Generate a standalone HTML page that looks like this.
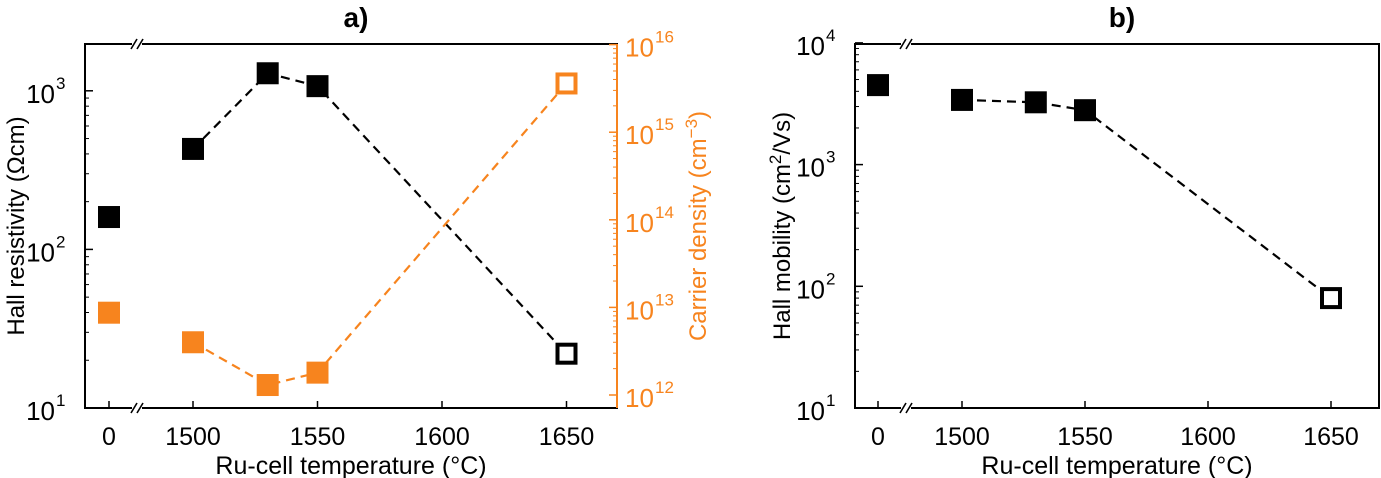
<!DOCTYPE html>
<html><head><meta charset="utf-8"><style>
html,body{margin:0;padding:0;background:#fff;}
svg{display:block;font-family:"Liberation Sans",Arial,sans-serif;}
</style></head><body>
<svg id="fig" width="1381" height="478" viewBox="0 0 1381 478" xmlns="http://www.w3.org/2000/svg"></svg>
<script>
// ---- data ----
const xCats = [0, 1500, 1530, 1550, 1650];
const resistivity = [160, 430, 1290, 1070, 22];
const carrierDensity = [8.7e12, 4e12, 1.3e12, 1.8e12, 3.6e15];
const mobility = [4500, 3400, 3250, 2800, 80];
const xTickLabels = ["0", "1500", "1550", "1600", "1650"];
const xTickValues = [0, 1500, 1550, 1600, 1650];
const leftExpA = [1, 2, 3];
const rightExpA = [12, 13, 14, 15, 16];
const leftExpB = [1, 2, 3, 4];

const NS = "http://www.w3.org/2000/svg";
const svg = document.getElementById('fig');
function el(tag, attrs, parent) {
  const e = document.createElementNS(NS, tag);
  for (const k in attrs) e.setAttribute(k, attrs[k]);
  (parent || svg).appendChild(e);
  return e;
}
const ORANGE = "#f7841e";

function makePanel(p) {
  const g = el('g', {});
  
  
  const xs = v => v === 0 ? p.zeroX : p.x1500 + (v - 1500) * p.pxPer50 / 50;
  const frame = el('rect', {x: p.L, y: p.T, width: p.R - p.L, height: p.B - p.T, fill: 'none', stroke: '#000', 'stroke-width': 2}, g);
  
  
  [p.T, p.B].forEach(yy => {
    const bg = el('rect', {x: p.brk - 5, y: yy - 3, width: 10, height: 6, fill: '#fff'}, g);
    
    
    [-3, 3].forEach(d => {
      const l = el('line', {x1: p.brk + d - 3, y1: yy + 5, x2: p.brk + d + 3, y2: yy - 5, stroke: '#000', 'stroke-width': 1.6}, g);
      
      
    });
  });
  xTickValues.forEach((v, i) => {
    const x = xs(v);
    const t = el('line', {x1: x, y1: p.B, x2: x, y2: p.B - 7, stroke: '#000', 'stroke-width': 1.5}, g);
    
    
    const tx = el('text', {x: x, y: p.B + 37, 'font-size': 25, 'text-anchor': 'middle'}, g);
    tx.textContent = xTickLabels[i];
    
    
  });
  const xt = el('text', {x: (p.L + p.R) / 2, y: p.B + 66, 'font-size': 25, 'text-anchor': 'middle'}, g);
  xt.textContent = 'Ru-cell temperature (°C)';
  
  
  const title = el('text', {x: (p.L + p.R) / 2 + 5, y: 27, 'font-size': 28, 'font-weight': 'bold', 'text-anchor': 'middle'}, g);
  title.textContent = p.title;
  
  
  return {g, xs};
}

function logAxis(g, p, side, exps, yOf, color) {
  const x0 = side === 'left' ? p.L : p.R;
  const dir = side === 'left' ? 1 : -1;
  for (let i = 0; i < exps.length; i++) {
    const e = exps[i];
    const y = yOf(Math.pow(10, e));
    const t = el('line', {x1: x0, y1: y, x2: x0 + dir * 8, y2: y, stroke: color, 'stroke-width': 1.5}, g);
    
    
    for (let m = 2; m <= 9; m++) {
      const ym = yOf(m * Math.pow(10, e));
      if (ym < p.T || ym > p.B) continue;
      const mt = el('line', {x1: x0, y1: ym, x2: x0 + dir * 4, y2: ym, stroke: color, 'stroke-width': 1}, g);
      
      
    }
    const lx = side === 'left' ? x0 - 12 : x0 + 8;
    const tx = el('text', {x: lx, y: y + 12, 'font-size': 26, fill: color, 'text-anchor': side === 'left' ? 'end' : 'start'}, g);
    
    
    if (side === 'left') {
      tx.setAttribute('x', lx - 18);
      tx.textContent = '10';
      const s2 = el('text', {x: lx - 17, y: y - 2, 'font-size': 17, fill: color}, g);
      s2.textContent = String(e);
      
      
    } else {
      tx.textContent = '10';
      const s2 = el('text', {x: lx + 30, y: y - 2, 'font-size': 17, fill: color}, g);
      s2.textContent = String(e);
      
      
    }
  }
}

function series(g, xs, yOf, vals, color, name) {
  const pts = xCats.map((c, i) => [xs(c), yOf(vals[i])]);
  const d = pts.slice(1).map((q, i) => (i ? 'L' : 'M') + q[0] + ' ' + q[1]).join(' ');
  const line = el('path', {d: d, fill: 'none', stroke: color, 'stroke-width': 2.2, 'stroke-dasharray': '9 6'}, g);
  
  
  pts.forEach((q, i) => {
    const open = i === pts.length - 1;
    const s = 22;
    const r = open
      ? el('rect', {x: q[0] - s / 2 + 2, y: q[1] - s / 2 + 2, width: s - 4, height: s - 4, fill: '#fff', stroke: color, 'stroke-width': 4}, g)
      : el('rect', {x: q[0] - s / 2, y: q[1] - s / 2, width: s, height: s, fill: color}, g);
    
    
  });
}

// Panel a
const pa = {name: 'panel-a', L: 85, R: 617, T: 44, B: 408, zeroX: 109, x1500: 193, pxPer50: 124.5, brk: 137, title: 'a)'};
const A = makePanel(pa);
const yLeftA = v => 408 - (Math.log10(v) - 1) * 158.6;
const yRightA = v => 395 - (Math.log10(v) - 12) * 87.6;
logAxis(A.g, pa, 'left', leftExpA, yLeftA, '#000');
logAxis(A.g, pa, 'right', rightExpA, yRightA, ORANGE);
const rs = el('line', {x1: pa.R, y1: pa.T, x2: pa.R, y2: pa.B, stroke: ORANGE, 'stroke-width': 2}, A.g);


series(A.g, A.xs, yLeftA, resistivity, '#000', 'resistivity');
series(A.g, A.xs, yRightA, carrierDensity, ORANGE, 'carrier-density');
const ylA = el('text', {transform: 'translate(24,226) rotate(-90)', 'font-size': 24, 'text-anchor': 'middle'}, A.g);
ylA.textContent = 'Hall resistivity (Ωcm)';


const yrA = el('text', {transform: 'translate(706,226) rotate(-90)', 'font-size': 24, 'text-anchor': 'middle', fill: ORANGE}, A.g);
yrA.innerHTML = 'Carrier density (cm<tspan dy="-9" font-size="17">−3</tspan><tspan dy="9">)</tspan>';



// Panel b
const pb = {name: 'panel-b', L: 855, R: 1379, T: 44, B: 408, zeroX: 878, x1500: 962, pxPer50: 123, brk: 906, title: 'b)'};
const B = makePanel(pb);
const yB = v => 408 - (Math.log10(v) - 1) * 121.7;
logAxis(B.g, pb, 'left', leftExpB, yB, '#000');
series(B.g, B.xs, yB, mobility, '#000', 'mobility');
const ylB = el('text', {transform: 'translate(790,226) rotate(-90)', 'font-size': 24, 'text-anchor': 'middle'}, B.g);
ylB.innerHTML = 'Hall mobility (cm<tspan dy="-9" font-size="17">2</tspan><tspan dy="9">/Vs)</tspan>';


</script>
</body></html>
